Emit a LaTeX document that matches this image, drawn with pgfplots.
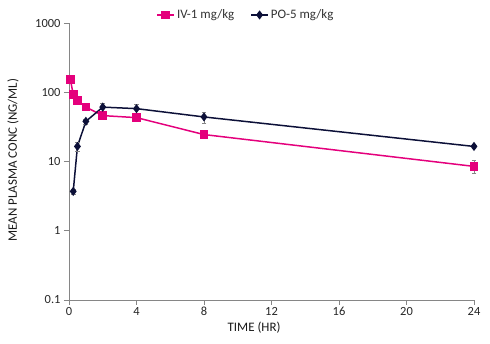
\documentclass[border=0pt]{standalone}
\usepackage{fontspec}
\setmainfont{Carlito}
\usepackage{pgfplots}
\pgfplotsset{compat=1.18}
\definecolor{ivpink}{RGB}{228,0,124}
\definecolor{ponavy}{RGB}{12,16,56}
\definecolor{axgray}{RGB}{134,134,134}
\begin{document}
\begin{tikzpicture}
\path[use as bounding box] (0,0) rectangle (490bp,344bp);
\begin{axis}[
  at={(69bp,44bp)}, anchor=south west,
  scale only axis, width=405bp, height=277bp,
  ymode=log, ymin=0.1, ymax=1000,
  xmin=0, xmax=24,
  xtick={0,4,...,24},
  ytick={0.1,1,10,100,1000},
  yticklabels={0.1,1,10,100,1000},
  log basis y=10,
  minor y tick num=0,
  axis lines=left,
  axis line style={draw=axgray, line width=0.8pt, -},
  tick style={draw=axgray, line width=0.8pt},
  tick align=outside,
  major tick length=5bp,
  every tick label/.style={font=\fontsize{12.5}{14}\selectfont, text=black!85},
  xticklabel style={yshift=1bp},
  /pgf/number format/assume math mode=true,
  xlabel={TIME (HR)},
  ylabel={MEAN PLASMA CONC (NG/ML)},
  label style={font=\fontsize{13}{14}\selectfont, text=black!90},
  xlabel style={at={(axis description cs:0.457,-0.1)}, anchor=center},
  ylabel style={at={(axis description cs:-0.138,0.505)}, anchor=center, rotate=0},
  legend style={at={(axis description cs:0.437,1.029)}, anchor=center, draw=none, fill=none,
    legend columns=2, font=\fontsize{13}{14}\selectfont, text=black!80,
    /tikz/every even column/.append style={column sep=14bp}},
  legend cell align=left,
  clip=false,
]
\addplot+[ivpink, line width=1.5pt, mark=square*, mark size=3.6pt,
  mark options={fill=ivpink, draw=ivpink, solid},
  error bars/.cd, y dir=both, y explicit,
  error bar style={axgray, line width=0.6pt}, error mark options={rotate=90, mark size=2.5pt, axgray, line width=0.6pt}]
  table[x=t, y=c, y error=e] {
t c e
0.083 153 0
0.25 93 9
0.5 76 3
1 61 3
2 46 3
4 43 4
8 24.5 2
24 8.5 1.8
};
\addlegendentry{IV-1 mg/kg}
\addplot+[ponavy, line width=1.5pt, mark=diamond*, mark size=3.4pt,
  mark options={fill=ponavy, draw=ponavy, solid},
  error bars/.cd, y dir=both, y explicit,
  error bar style={axgray, line width=0.6pt}, error mark options={rotate=90, mark size=2.5pt, axgray, line width=0.6pt}]
  table[x=t, y=c, y error=e] {
t c e
0.25 3.7 0.3
0.5 16.5 2.5
1 38 3
2 61 9
4 58 9
8 44 8
24 16.5 1
};
\addlegendentry{PO-5 mg/kg}
\end{axis}
\end{tikzpicture}
\end{document}
